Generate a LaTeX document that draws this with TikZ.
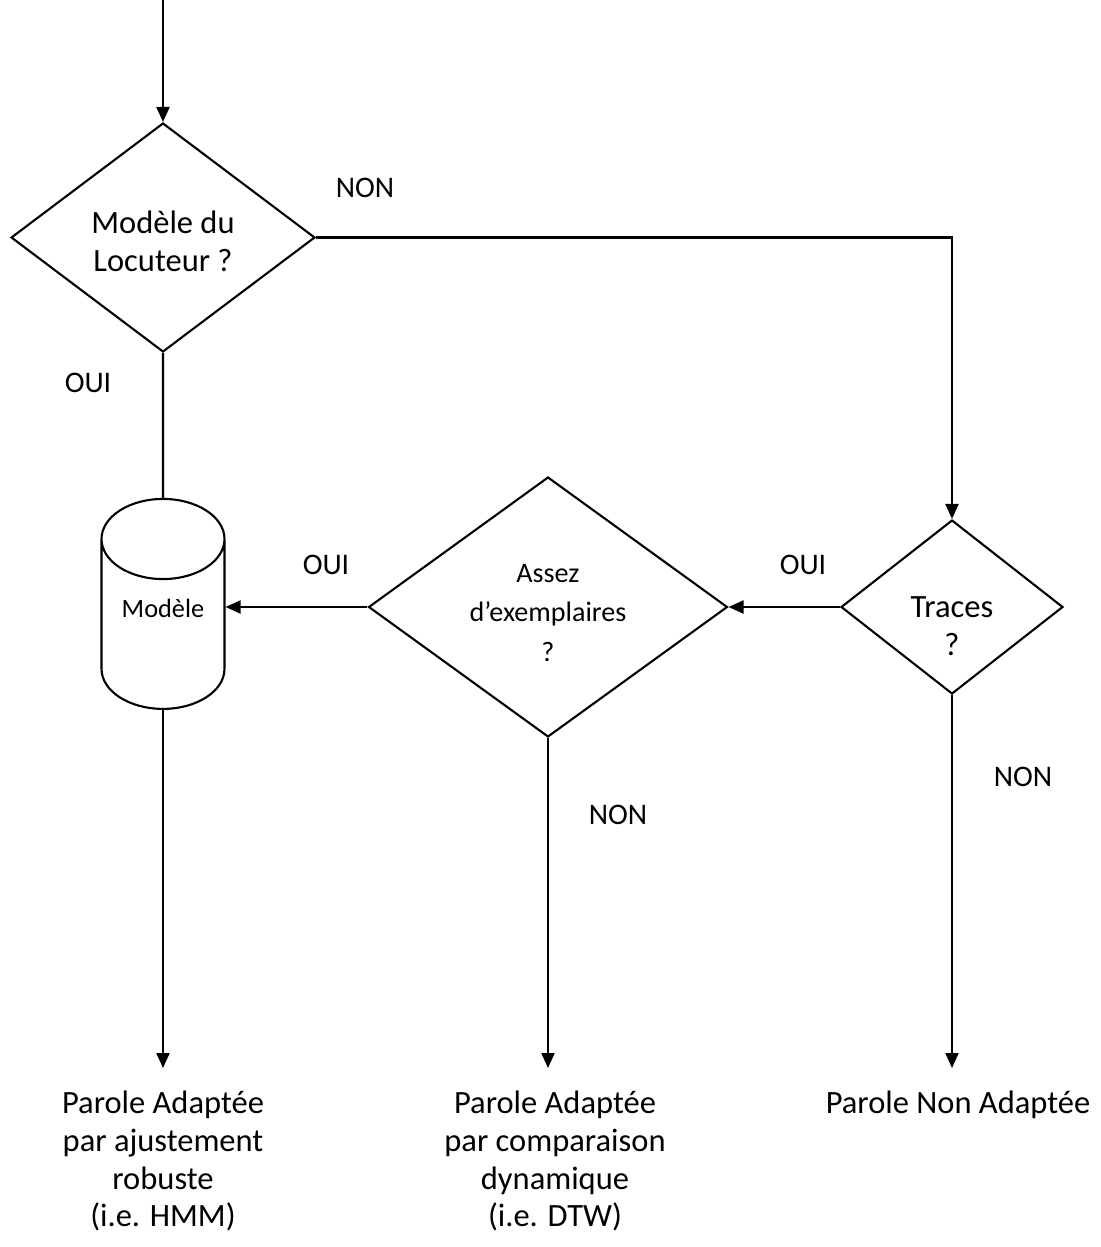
\documentclass[tikz,border=0pt]{standalone}
\usepackage{fontspec}
\setmainfont{Carlito}
\usetikzlibrary{shapes.geometric,arrows.meta}

\begin{document}
\begin{tikzpicture}[x=0.02cm, y=-0.02cm, line width=1.2pt,
  >={Triangle[length=0.3cm,width=0.26cm]},
  question/.style={draw, diamond, inner sep=0pt, align=center, font=\fontsize{18.5}{21.5}\selectfont},
  stock/.style={draw, cylinder, shape border rotate=90, aspect=0.85, minimum width=2.46cm, minimum height=4.2cm, font=\fontsize{15}{18}\selectfont},
  rep/.style={font=\fontsize{17}{20}\selectfont},
  sortie/.style={align=center, anchor=north, inner xsep=0pt, inner ysep=0.44cm, font=\fontsize{18.5}{21.5}\selectfont}]
\useasboundingbox (0,0) rectangle (1101,1247);

\coordinate (depart) at (163,0);
\node[question, aspect=1.32, minimum width=6.08cm, minimum height=4.58cm] (locuteur) at (163,237.5) {\rule{0pt}{17.5pt}Modèle du\\Locuteur ?};
\node[stock] (modele) at (163,633) {\raisebox{1cm}{Modèle}};
\node[question, aspect=1.38, minimum width=7.18cm, minimum height=5.2cm, font=\fontsize{16}{22.5}\selectfont] (assez) at (548,607) {\rule{0pt}{17pt}Assez\\d’exemplaires\\?};
\node[question, aspect=1.28, minimum width=4.44cm, minimum height=3.48cm] (traces) at (952,607) {\rule{0pt}{34pt}Traces\\?};

\node[sortie] (hmm) at (163,1068) {Parole Adaptée\\par ajustement\\robuste\\(i.e. HMM)};
\node[sortie] (dtw) at (555,1068) {Parole Adaptée\\par comparaison\\dynamique\\(i.e. DTW)};
\node[sortie] (brut) at (958,1068) {Parole Non Adaptée};

% reponses
\node[rep] (non1) at (365,188) {NON};
\node[rep] (oui1) at (88,383) {OUI};
\node[rep] (oui2) at (326,565) {OUI};
\node[rep] (oui3) at (803,565) {OUI};
\node[rep] (non2) at (618,815) {NON};
\node[rep] (non3) at (1023,777) {NON};

\draw[->] (depart) -- (locuteur.north);
\draw[->] (locuteur.east) -| (traces.north);
\draw (locuteur.south) -- (modele.north);
\draw[->] (traces.west) -- (assez.east);
\draw[->] (assez.west) -- (assez.west -| modele.east);
\draw[->] (modele.south) -- (hmm.north);
\draw[->] (assez.south) -- (assez.south |- dtw.north);
\draw[->] (traces.south) -- (traces.south |- brut.north);
\end{tikzpicture}
\end{document}
